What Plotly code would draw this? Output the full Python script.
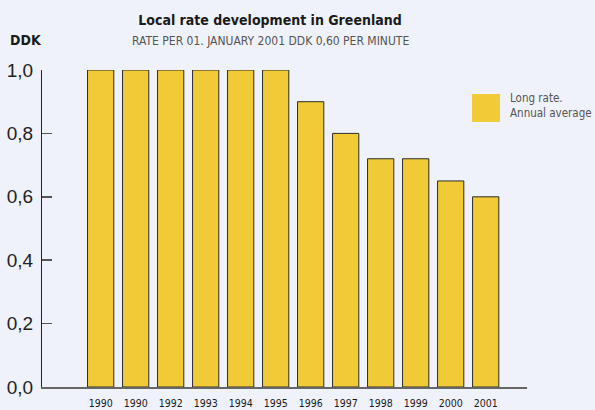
import plotly.graph_objects as go

years = ["1990", "1990", "1992", "1993", "1994", "1995", "1996", "1997", "1998", "1999", "2000", "2001"]
rates = [1.0, 1.0, 1.0, 1.0, 1.0, 1.0, 0.9, 0.8, 0.72, 0.72, 0.65, 0.6]
y_ticks = [0.0, 0.2, 0.4, 0.6, 0.8, 1.0]
title_text = "Local rate development in Greenland"
subtitle_text = "RATE PER 01. JANUARY 2001 DDK 0,60 PER MINUTE"
unit_text = "DDK"
legend_text = "Long rate.<br>Annual average"

BG = "#eff2fa"
YEL = "#f1cb37"
NARROW = "DejaVu Sans Condensed, Liberation Sans Narrow, sans-serif"
REG = "Liberation Sans, Arial, sans-serif"

idx = list(range(len(years)))

fig = go.Figure()
fig.add_trace(go.Bar(
    x=idx, y=rates,
    marker=dict(color=YEL, line=dict(color="#2b2b2b", width=1)),
    showlegend=False,
    hoverinfo="skip",
))

fig.update_layout(
    width=595, height=410,
    paper_bgcolor=BG, plot_bgcolor=BG,
    margin=dict(l=42, r=68, t=70, b=23, autoexpand=False),
    separators=", ",
    bargap=0.25,
    title=dict(text=f"<b>{title_text}</b>", x=270/595, xanchor="center",
               y=1 - 20.5/410, yanchor="middle", yref="container",
               font=dict(family=NARROW, size=14, color="#1a1a1a")),
    xaxis=dict(
        range=[-1.676, 12.18], automargin=False,
        tickmode="array", tickvals=idx, ticktext=years,
        showgrid=False, zeroline=False,
        showline=True, linecolor="#666666", linewidth=2,
        ticks="", ticklabelstandoff=5,
        tickfont=dict(family=NARROW, size=10.5, color="#1a1a1a"),
        fixedrange=True,
    ),
    yaxis=dict(
        range=[0, 1.0], automargin=False,
        tickmode="array", tickvals=y_ticks, tickformat=".1f",
        showgrid=False, zeroline=False,
        showline=True, linecolor="#222222", linewidth=1,
        ticks="inside", ticklen=10, tickwidth=1.5, tickcolor="#555555",
        ticklabelstandoff=4,
        tickfont=dict(family=REG, size=19, color="#222222"),
        fixedrange=True,
    ),
)

fig.add_annotation(text=subtitle_text, xref="paper", yref="paper",
                   x=(270 - 42) / 485, y=(387.3 - 41) / 317.3,
                   xanchor="center", yanchor="middle", showarrow=False,
                   font=dict(family=NARROW, size=12, color="#555555"))
fig.add_annotation(text=f"<b>{unit_text}</b>", xref="paper", yref="paper",
                   x=(8 - 42) / 485, y=(387.3 - 39.5) / 317.3,
                   xanchor="left", yanchor="middle", showarrow=False,
                   font=dict(family=NARROW, size=14, color="#1a1a1a"))

# legend
fig.add_shape(type="rect", xref="paper", yref="paper",
              x0=(472 - 42) / 485, x1=(500 - 42) / 485,
              y0=(387.3 - 122) / 317.3, y1=(387.3 - 94) / 317.3,
              fillcolor=YEL, line=dict(width=0))
fig.add_annotation(text=legend_text, xref="paper", yref="paper",
                   x=(508 - 42) / 485, y=(387.3 - 105.5) / 317.3,
                   xanchor="left", yanchor="middle", align="left", showarrow=False,
                   font=dict(family=NARROW, size=11.5, color="#555555"))

fig.write_html("out.html",
               config={"displayModeBar": False, "staticPlot": True},
               post_script="document.body.style.margin='0';document.body.style.background='%s';" % BG)
